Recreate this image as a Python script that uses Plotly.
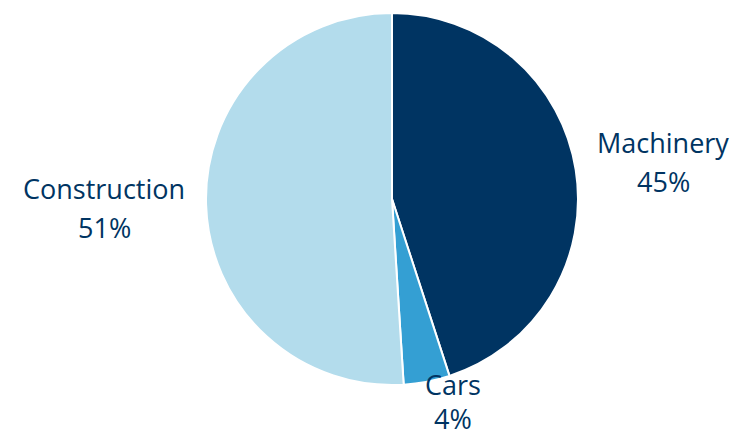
import plotly.graph_objects as go

categories = ["Machinery", "Cars", "Construction"]
values = [45, 4, 51]
colors = ["#003462", "#349FD3", "#B3DCEC"]

W, H = 733, 436

# label positions (pixels): centre x, name-line centre y, percent-line centre y
label_px = {"Machinery": (663, 142.5, 181.5), "Cars": (453, 384, 418), "Construction": (104, 188.5, 227.5)}

cx0, cy0, r = 392, 199, 186
fig = go.Figure(go.Pie(
    labels=categories, values=values, sort=False, direction="clockwise", rotation=0,
    marker=dict(colors=colors, line=dict(color="white", width=2)),
    textinfo="none", hoverinfo="label+percent", showlegend=False,
    domain=dict(x=[(cx0 - r) / W, (cx0 + r) / W], y=[1 - (cy0 + r) / H, 1 - (cy0 - r) / H]),
))

total = sum(values)
font = dict(family="Open Sans, Noto Sans, sans-serif", size=27, color="#003462")
for cat, v in zip(categories, values):
    lx, ly1, ly2 = label_px[cat]
    fig.add_annotation(x=lx / W, y=1 - ly1 / H, xref="paper", yref="paper",
                       text=cat, showarrow=False, font=font, xanchor="center", yanchor="middle",
                       borderpad=0)
    fig.add_annotation(x=lx / W, y=1 - ly2 / H, xref="paper", yref="paper",
                       text=f"{round(100 * v / total)}%", showarrow=False, font=font,
                       xanchor="center", yanchor="middle", borderpad=0)

fig.update_layout(width=W, height=H, margin=dict(l=0, r=0, t=0, b=0),
                  paper_bgcolor="white", plot_bgcolor="white")
fig.write_html("out.html", config={"displayModeBar": False},
               post_script="document.body.style.margin='0';document.body.style.overflow='hidden';")
